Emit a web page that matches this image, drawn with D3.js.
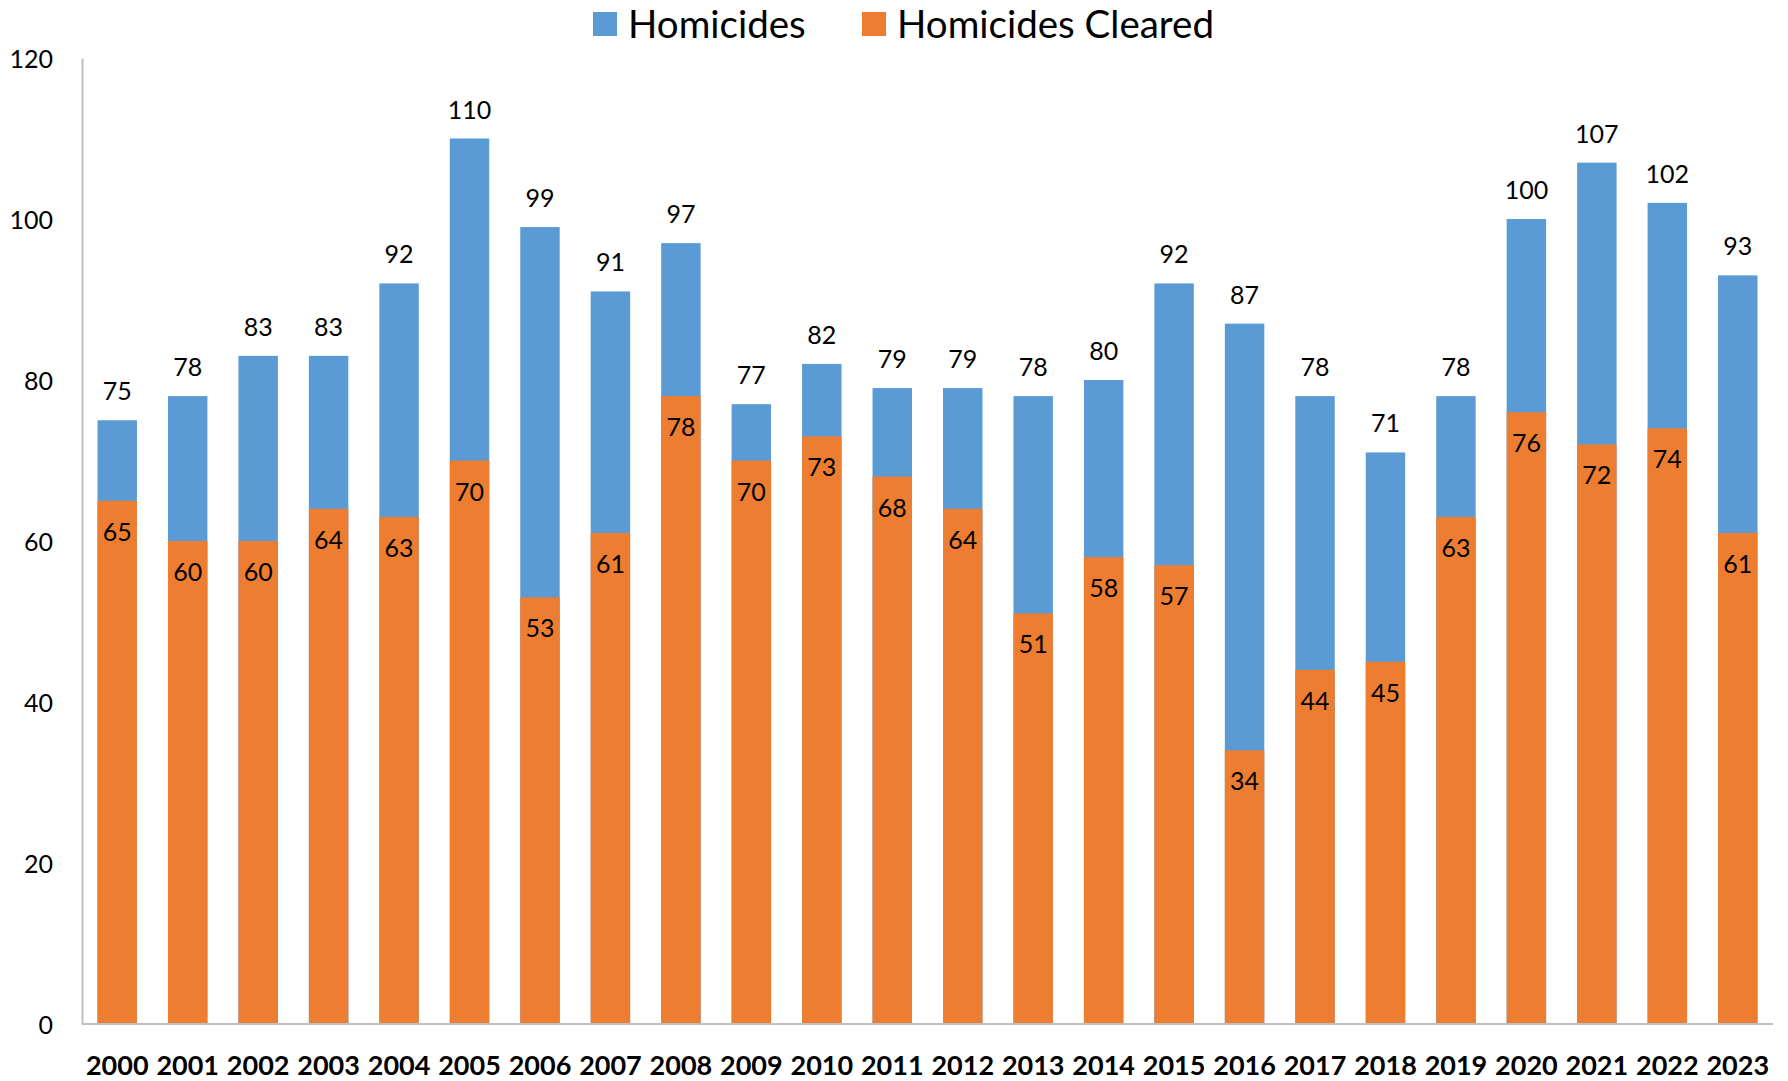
<!DOCTYPE html>
<html>
<head>
<meta charset="utf-8">
<script src="https://cdn.jsdelivr.net/npm/d3@7"></script>
<style>
  html, body { margin: 0; padding: 0; background: #fff; }
  svg { display: block; font-family: Lato, "Open Sans", sans-serif; }
</style>
</head>
<body>
<svg id="chart" width="1788" height="1081"></svg>
<script>
const years = ["2000","2001","2002","2003","2004","2005","2006","2007","2008","2009","2010","2011","2012","2013","2014","2015","2016","2017","2018","2019","2020","2021","2022","2023"];
const homicides = [75,78,83,83,92,110,99,91,97,77,82,79,79,78,80,92,87,78,71,78,100,107,102,93];
const cleared = [65,60,60,64,63,70,53,61,78,70,73,68,64,51,58,57,34,44,45,63,76,72,74,61];
const yTicks = [0,20,40,60,80,100,120];
const seriesNames = ["Homicides","Homicides Cleared"];
const colors = ["#5B9BD5","#ED7D31"];

(function () {
const svg = d3.select("#chart");
const mLeft = 82, mRight = 1773, mTop = 58, mBottom = 1024;

const x = d3.scaleBand().domain(years).range([mLeft, mRight]).paddingInner(0.44).paddingOuter(0.22);
const y = d3.scaleLinear().domain([0,120]).range([mBottom, mTop]);

// Homicides bars (total)
svg.append("g").selectAll("rect").data(years).join("rect")
  .attr("x", d => x(d)).attr("width", x.bandwidth())
  .attr("y", (d,i) => y(homicides[i])).attr("height", (d,i) => y(0) - y(homicides[i]))
  .attr("fill", colors[0]);

// Cleared bars (overlay)
svg.append("g").selectAll("rect").data(years).join("rect")
  .attr("x", d => x(d)).attr("width", x.bandwidth())
  .attr("y", (d,i) => y(cleared[i])).attr("height", (d,i) => y(0) - y(cleared[i]))
  .attr("fill", colors[1]);

// Axes
const yAxis = d3.axisLeft(y).tickValues(yTicks).tickSize(0).tickPadding(29);
const gy = svg.append("g").attr("transform", `translate(${mLeft},0)`).call(yAxis);
gy.select(".domain").attr("stroke", "#BFBFBF").attr("stroke-width", 2);
gy.selectAll("text").attr("font-size", 25).attr("font-family", "Lato").attr("fill", "#000").attr("dy", "0.36em");

const xAxis = d3.axisBottom(x).tickSize(0).tickPadding(32);
const gx = svg.append("g").attr("transform", `translate(0,${mBottom})`).call(xAxis);
gx.select(".domain").attr("stroke", "#BFBFBF").attr("stroke-width", 2).attr("d", `M${mLeft},0H${mRight}`);
gx.selectAll("text").attr("font-size", 27).attr("font-weight", "bold").attr("font-family", "Lato").attr("fill", "#000");

// Data labels
svg.append("g").selectAll("text").data(years).join("text")
  .attr("x", d => x(d) + x.bandwidth()/2)
  .attr("y", (d,i) => y(homicides[i]) - 20)
  .attr("text-anchor", "middle").attr("font-size", 25).attr("fill", "#000")
  .text((d,i) => homicides[i]);

svg.append("g").selectAll("text").data(years).join("text")
  .attr("x", d => x(d) + x.bandwidth()/2)
  .attr("y", (d,i) => y(cleared[i]) + 40)
  .attr("text-anchor", "middle").attr("font-size", 25).attr("fill", "#000")
  .text((d,i) => cleared[i]);

// Legend
const legendX = [593, 862];
const lg = svg.append("g");
seriesNames.forEach((name, i) => {
  lg.append("rect").attr("x", legendX[i]).attr("y", 12).attr("width", 24).attr("height", 24).attr("fill", colors[i]);
  lg.append("text").attr("x", legendX[i] + 35).attr("y", 38).attr("font-size", 38.5).attr("fill", "#000").text(name);
});
})();
</script>
</body>
</html>
